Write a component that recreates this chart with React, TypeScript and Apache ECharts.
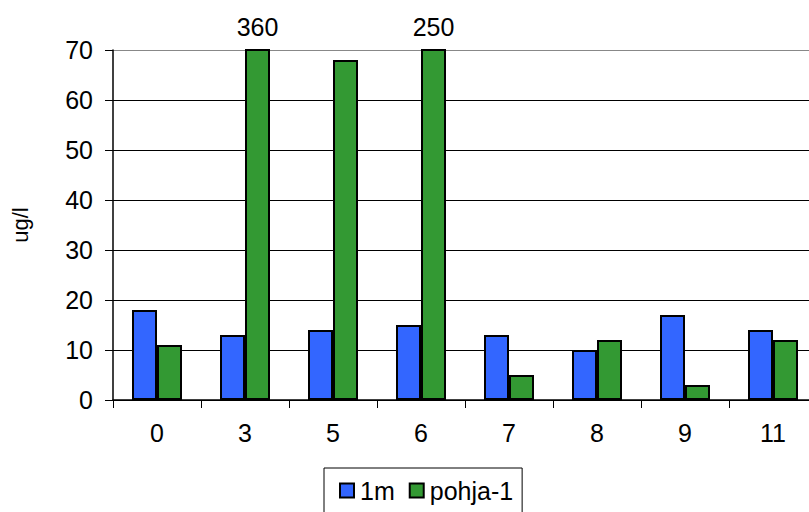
import React, { useEffect, useRef } from "react";
import * as echarts from "echarts";

// Sampling depths shown along the x axis
const categories = ["0", "3", "5", "6", "7", "8", "9", "11"];
// Concentration at 1 m (ug/l)
const series1m = [18, 13, 14, 15, 13, 10, 17, 14];
// Concentration near the bottom, pohja-1 (ug/l)
const seriesPohja = [11, 360, 68, 250, 5, 12, 3, 12];
// Value axis ticks
const yMin = 0;
const yMax = 70;
const yStep = 10;

const FONT = "Liberation Sans, Arial, sans-serif";
const BLUE = "#3366FF";
const GREEN = "#339933";

export default function App() {
  const ref = useRef<HTMLDivElement>(null);

  useEffect(() => {
    if (!ref.current) return;
    const chart = echarts.init(ref.current, undefined, { renderer: "svg" });

    // Bars that run past the axis maximum are clipped and get their value printed on top
    const pohjaData = seriesPohja.map((v) => ({
      value: v,
      label: {
        show: v > yMax,
        position: "top" as const,
        distance: 10,
        formatter: "{c}",
        fontFamily: FONT,
        fontSize: 25,
        color: "#000",
      },
    }));

    const gridColors = Array.from({ length: (yMax - yMin) / yStep + 1 }, (_, i) =>
      i === (yMax - yMin) / yStep ? "#888" : "#000"
    );

    chart.setOption({
      animation: false,
      backgroundColor: "#fff",
      textStyle: { fontFamily: FONT },
      grid: {
        left: 113,
        top: 50,
        width: 704,
        height: 350,
        containLabel: false,
        outerBoundsMode: "none",
      },
      legend: {
        left: 324,
        top: 468,
        padding: [10, 9, 40, 15],
        borderColor: "#000",
        borderWidth: 1,
        itemWidth: 14,
        itemHeight: 14,
        itemGap: 14,
        icon: "rect",
        itemStyle: { borderColor: "#000", borderWidth: 2 },
        textStyle: { fontFamily: FONT, fontSize: 25, color: "#000", padding: [0, 0, 0, 1] },
        data: ["1m", "pohja-1"],
      },
      xAxis: {
        type: "category",
        data: categories,
        axisLine: { lineStyle: { color: "#000", width: 1.5 } },
        axisTick: { show: true, length: 8, lineStyle: { color: "#000" } },
        axisLabel: { fontFamily: FONT, fontSize: 25, color: "#000", margin: 20 },
        splitLine: { show: false },
      },
      yAxis: {
        type: "value",
        min: yMin,
        max: yMax,
        interval: yStep,
        name: "ug/l",
        nameLocation: "middle",
        nameRotate: 90,
        nameGap: 82,
        nameTextStyle: { fontFamily: FONT, fontSize: 22, color: "#000" },
        axisLine: { show: true, lineStyle: { color: "#000", width: 1.5 } },
        axisTick: { show: true, length: 8, lineStyle: { color: "#000" } },
        axisLabel: { fontFamily: FONT, fontSize: 25, color: "#000", margin: 20 },
        splitLine: { show: true, lineStyle: { color: gridColors, width: 1.2 } },
      },
      series: [
        {
          name: "1m",
          type: "bar",
          data: series1m,
          barWidth: 25,
          barGap: "0%",
          clip: true,
          itemStyle: { color: BLUE, borderColor: "#000", borderWidth: 2 },
        },
        {
          name: "pohja-1",
          type: "bar",
          data: pohjaData,
          barWidth: 25,
          barGap: "0%",
          clip: true,
          itemStyle: { color: GREEN, borderColor: "#000", borderWidth: 2 },
        },
      ],
    });

    return () => chart.dispose();
  }, []);

  return <div ref={ref} style={{ width: 809, height: 512, position: "absolute", left: 0, top: 0 }} />;
}
